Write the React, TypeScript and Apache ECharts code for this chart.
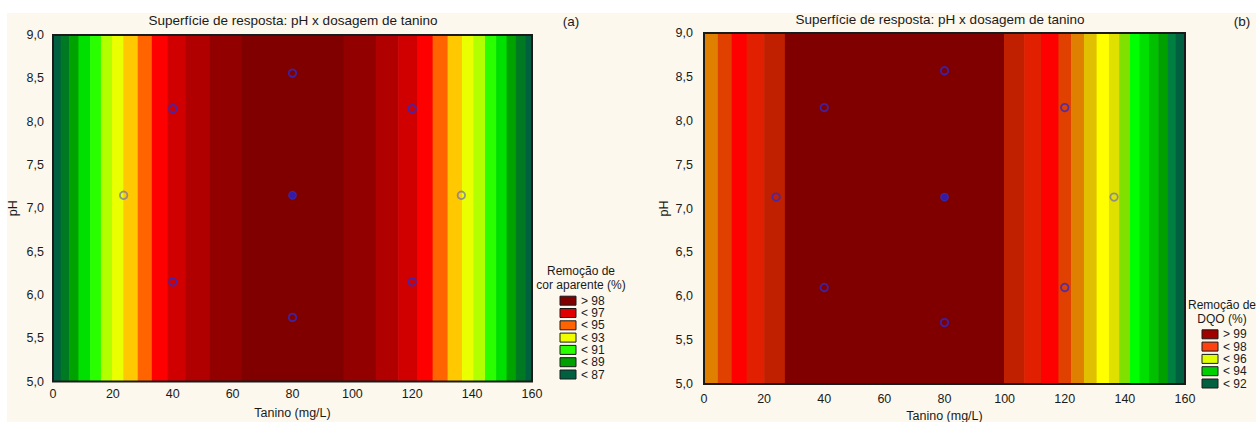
import React, { useEffect, useRef } from "react";
import * as echarts from "echarts";

// ---------- data ----------
const titleText = "Superfície de resposta: pH x dosagem de tanino";
const xName = "Tanino (mg/L)";
const yName = "pH";
const X_MIN = 0, X_MAX = 160, X_STEP = 20;
const Y_MIN = 5, Y_MAX = 9, Y_STEP = 0.5;

// (a) band edges along tanino and contour level of each band
const leftEdges = [0, 2.6, 5.4, 8.5, 12.4, 16.0, 19.7, 23.5, 28.3, 33.0, 38.3, 44.3, 52.4, 63.0, 97.0, 107.8, 115.3, 121.7, 126.8, 131.8, 136.6, 140.4, 144.3, 148.0, 151.5, 154.6, 157.7, 160];
const leftLevels = [0, 1, 2, 3, 4, 5, 6, 7, 8, 9, 10, 11, 12, 13, 12, 11, 10, 9, 8, 7, 6, 5, 4, 3, 2, 1, 0];
const leftPalette = ["#00603f", "#007a22", "#00a200", "#00e000", "#2aff00", "#b2ff00", "#eaff00", "#ffc800", "#ff6400", "#ff0000", "#d00000", "#b00000", "#920000", "#800000"];
const leftLegendTitle = ["Remoção de", "cor aparente (%)"];
const leftLegendLabels = ["> 98", "< 97", "< 95", "< 93", "< 91", "< 89", "< 87"];
const leftLegendColors = ["#800000", "#e00000", "#ff6400", "#f0ff00", "#2aff00", "#00a000", "#006040"];
const leftPoints = [[40, 8.15], [80, 8.56], [120, 8.15], [23.6, 7.15], [80, 7.15], [136.4, 7.15], [40, 6.15], [80, 5.74], [120, 6.15]];
const leftKinds = ["f", "f", "f", "g", "c", "g", "f", "f", "f"];

// (b)
const rightEdges = [0, 4.6, 9.2, 14.2, 20.0, 26.9, 99.8, 106.5, 112.1, 117.9, 122.1, 126.4, 130.6, 134.7, 138.1, 141.7, 144.8, 148.0, 151.1, 154.1, 156.9, 160];
const rightLevels = [10, 11, 12, 13, 14, 15, 14, 13, 12, 11, 10, 9, 8, 7, 6, 5, 4, 3, 2, 1, 0];
const rightPalette = ["#006040", "#008040", "#00a000", "#00c000", "#00e000", "#00ff00", "#80e000", "#e0e000", "#ffff00", "#e0c000", "#e08000", "#e04000", "#ff0000", "#e02000", "#c02000", "#800000"];
const rightLegendTitle = ["Remoção de", "DQO (%)"];
const rightLegendLabels = ["> 99", "< 98", "< 96", "< 94", "< 92"];
const rightLegendColors = ["#a00000", "#ff4010", "#e0ff00", "#00d000", "#006040"];
const rightPoints = [[40, 8.15], [80, 8.57], [120, 8.15], [24, 7.13], [80, 7.13], [136.4, 7.13], [40, 6.1], [80, 5.7], [120, 6.1]];
const rightKinds = ["f", "f", "f", "f", "c", "g", "f", "f", "f"];

// ---------- styles ----------
const FONT = "'Liberation Sans', Arial, sans-serif";
const TXT = "#1a1a1a";
const BG = "#fdf8ee";

function bandData(edges: number[], levels: number[]) {
  return levels.map((lv, i) => [edges[i], edges[i + 1], lv]);
}

function makeBandSeries(idx: number, edges: number[], levels: number[], palette: string[]) {
  return {
    type: "custom",
    xAxisIndex: idx,
    yAxisIndex: idx,
    silent: true,
    z: 1,
    dimensions: ["x0", "x1", "lv"],
    encode: { x: [0, 1] },
    data: bandData(edges, levels),
    renderItem: (_p: any, api: any) => {
      const a = api.coord([api.value(0), Y_MAX]);
      const b = api.coord([api.value(1), Y_MIN]);
      const c = palette[api.value(2)];
      return {
        type: "rect",
        shape: { x: a[0], y: a[1], width: b[0] - a[0] + 0.6, height: b[1] - a[1] },
        style: { fill: c },
      };
    },
  };
}

function makeFrameSeries(idx: number) {
  return {
    type: "custom",
    xAxisIndex: idx,
    yAxisIndex: idx,
    silent: true,
    z: 3,
    data: [[X_MIN, X_MAX]],
    encode: { x: [0, 1] },
    renderItem: (_p: any, api: any) => {
      const a = api.coord([X_MIN, Y_MAX]);
      const b = api.coord([X_MAX, Y_MIN]);
      return {
        type: "rect",
        shape: { x: a[0], y: a[1], width: b[0] - a[0], height: b[1] - a[1] },
        style: { fill: "none", stroke: "#1a1a1a", lineWidth: 2 },
      };
    },
  };
}

function makePointSeries(idx: number, pts: number[][], kinds: string[]) {
  return {
    type: "scatter",
    xAxisIndex: idx,
    yAxisIndex: idx,
    z: 5,
    symbol: "circle",
    symbolSize: 7.5,
    data: pts.map((p, i) => ({
      value: p,
      itemStyle:
        kinds[i] === "c"
          ? { color: "#2020d0", borderColor: "#3030c0", borderWidth: 1.2 }
          : kinds[i] === "g"
          ? { color: "rgba(0,0,0,0)", borderColor: "#7a7aa8", borderWidth: 1.8 }
          : { color: "rgba(0,0,0,0)", borderColor: "#2a2ad0", borderWidth: 1.8 },
    })),
  };
}

function legendGraphics(cx: number, titleY: number, titleLines: string[], boxX: number, rowY: number, labels: string[], colors: string[]) {
  const els: any[] = [];
  titleLines.forEach((t, i) => {
    els.push({
      type: "text",
      x: cx,
      y: titleY + i * 14,
      style: { text: t, font: `12px ${FONT}`, fill: TXT, align: "center", verticalAlign: "middle" },
    });
  });
  labels.forEach((l, i) => {
    const y = rowY + i * 12.3;
    els.push({
      type: "rect",
      shape: { x: boxX, y: y - 4.5, width: 16, height: 9 },
      style: { fill: colors[i], stroke: "#1a1a1a", lineWidth: 1 },
    });
    els.push({
      type: "text",
      x: boxX + 21,
      y: y,
      style: { text: l, font: `12px ${FONT}`, fill: TXT, align: "left", verticalAlign: "middle" },
    });
  });
  return els;
}

const yFmt = (v: number) => v.toFixed(1).replace(".", ",");

function xAxisCfg(grid: number, gap: number, margin: number) {
  return {
    type: "value",
    gridIndex: grid,
    min: X_MIN,
    max: X_MAX,
    interval: X_STEP,
    name: xName,
    nameLocation: "middle",
    nameGap: gap,
    nameTextStyle: { color: TXT, fontFamily: FONT, fontSize: 12.5 },
    axisLine: { show: false },
    axisTick: { show: false },
    splitLine: { show: false },
    axisLabel: { color: TXT, fontFamily: FONT, fontSize: 12.5, margin },
  };
}

function yAxisCfg(grid: number, gap: number, margin: number) {
  return {
    type: "value",
    gridIndex: grid,
    min: Y_MIN,
    max: Y_MAX,
    interval: Y_STEP,
    name: yName,
    nameLocation: "middle",
    nameGap: gap,
    nameRotate: 90,
    nameTextStyle: { color: TXT, fontFamily: FONT, fontSize: 12.5 },
    axisLine: { show: false },
    axisTick: { show: false },
    splitLine: { show: false },
    axisLabel: { color: TXT, fontFamily: FONT, fontSize: 12.5, margin, formatter: yFmt },
  };
}

export default function App() {
  const ref = useRef<HTMLDivElement>(null);
  useEffect(() => {
    if (!ref.current) return;
    const chart = echarts.init(ref.current, undefined, { renderer: "svg" });
    const option: any = {
      animation: false,
      backgroundColor: "#ffffff",
      grid: [
        { left: 53, top: 35, width: 479, height: 346.5, outerBoundsMode: "none", containLabel: false },
        { left: 704, top: 33, width: 481, height: 351, outerBoundsMode: "none", containLabel: false },
      ],
      xAxis: [xAxisCfg(0, 25, 6), xAxisCfg(1, 18, 8)],
      yAxis: [yAxisCfg(0, 34, 9), yAxisCfg(1, 34, 11)],
      graphic: [
        { type: "rect", z: -10, shape: { x: 7, y: 13, width: 1256, height: 422 }, style: { fill: BG } },
        { type: "text", x: 293, y: 20, style: { text: titleText, font: `13.5px ${FONT}`, fill: TXT, align: "center", verticalAlign: "middle" } },
        { type: "text", x: 571, y: 21, style: { text: "(a)", font: `13.5px ${FONT}`, fill: TXT, align: "center", verticalAlign: "middle" } },
        { type: "text", x: 940, y: 19, style: { text: titleText, font: `13.5px ${FONT}`, fill: TXT, align: "center", verticalAlign: "middle" } },
        { type: "text", x: 1242, y: 21, style: { text: "(b)", font: `13.5px ${FONT}`, fill: TXT, align: "center", verticalAlign: "middle" } },
        ...legendGraphics(581, 271, leftLegendTitle, 560, 300.7, leftLegendLabels, leftLegendColors),
        ...legendGraphics(1222, 305, rightLegendTitle, 1202, 334.3, rightLegendLabels, rightLegendColors),
      ],
      series: [
        makeBandSeries(0, leftEdges, leftLevels, leftPalette),
        makeFrameSeries(0),
        makePointSeries(0, leftPoints, leftKinds),
        makeBandSeries(1, rightEdges, rightLevels, rightPalette),
        makeFrameSeries(1),
        makePointSeries(1, rightPoints, rightKinds),
      ],
    };
    chart.setOption(option);
    return () => chart.dispose();
  }, []);
  return (
    <div
      ref={ref}
      style={{ position: "fixed", left: 0, top: 0, width: 1256, height: 422 }}
    />
  );
}
